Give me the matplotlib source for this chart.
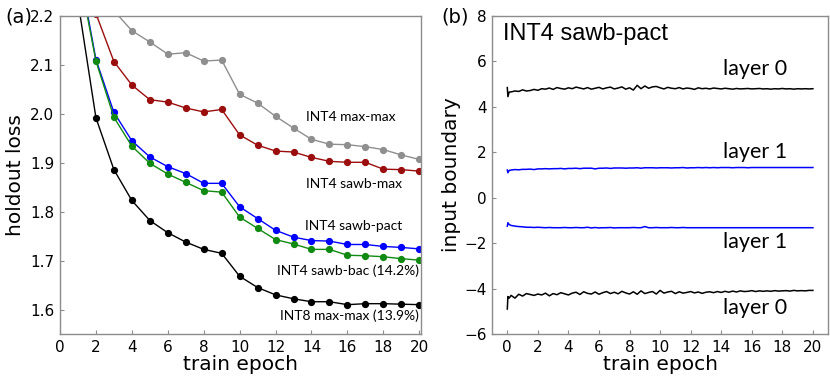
import numpy as np
import matplotlib
matplotlib.use('Agg')
import matplotlib.pyplot as plt

# (a) holdout loss per epoch
epochs = list(range(1, 21))
int4_maxmax = [2.60, 2.35, 2.211, 2.170, 2.147, 2.122, 2.125, 2.108, 2.110, 2.040,
               2.022, 1.995, 1.971, 1.948, 1.938, 1.937, 1.933, 1.927, 1.916, 1.907]
int4_sawbmax = [2.50, 2.205, 2.107, 2.059, 2.029, 2.024, 2.012, 2.004, 2.009, 1.957,
                1.936, 1.924, 1.922, 1.911, 1.903, 1.901, 1.901, 1.887, 1.886, 1.883]
int4_sawbpact = [2.31, 2.111, 2.003, 1.945, 1.912, 1.892, 1.878, 1.858, 1.858, 1.810,
                 1.786, 1.762, 1.748, 1.741, 1.740, 1.733, 1.733, 1.729, 1.727, 1.724]
int4_sawbbac = [2.30, 2.108, 1.993, 1.934, 1.899, 1.877, 1.860, 1.843, 1.840, 1.789,
                1.766, 1.743, 1.734, 1.723, 1.723, 1.711, 1.710, 1.708, 1.704, 1.701]
int8_maxmax = [2.23, 1.992, 1.886, 1.823, 1.782, 1.757, 1.738, 1.723, 1.715, 1.668,
               1.645, 1.630, 1.622, 1.616, 1.616, 1.610, 1.612, 1.612, 1.611, 1.610]

# (b) learned input boundaries, INT4 sawb-pact
head_epoch = [0.0, 0.04, 0.12]
grid_epoch = np.arange(0.25, 20.01, 0.25)

l0_pos_head = [4.85, 4.45, 4.65]
l0_pos = [4.66, 4.70, 4.68, 4.75, 4.70, 4.72, 4.77, 4.73, 4.80, 4.78, 4.83, 4.77,
          4.85, 4.81, 4.78, 4.84, 4.80, 4.87, 4.83, 4.79, 4.85, 4.78, 4.82, 4.86,
          4.79, 4.84, 4.87, 4.79, 4.83, 4.88, 4.78, 4.84, 4.74, 4.95, 4.80, 4.92,
          4.82, 4.88, 4.90, 4.84, 4.79, 4.86, 4.82, 4.80, 4.85, 4.79, 4.83, 4.81,
          4.77, 4.84, 4.80, 4.82, 4.79, 4.83, 4.81, 4.79, 4.82, 4.80, 4.78, 4.81,
          4.79, 4.80, 4.81, 4.79, 4.80, 4.81, 4.79, 4.80, 4.78, 4.80, 4.79, 4.81,
          4.79, 4.80, 4.78, 4.80, 4.79, 4.80, 4.79, 4.80]

l1_pos_head = [1.22, 1.10, 1.20]
l1_pos = [1.22, 1.24, 1.23, 1.25, 1.25, 1.26, 1.24, 1.27, 1.27, 1.28, 1.27, 1.28,
          1.28, 1.29, 1.27, 1.29, 1.29, 1.30, 1.28, 1.30, 1.30, 1.30, 1.27, 1.30,
          1.30, 1.31, 1.29, 1.31, 1.31, 1.31, 1.30, 1.31, 1.31, 1.32, 1.30, 1.32,
          1.32, 1.32, 1.31, 1.32, 1.32, 1.32, 1.31, 1.32, 1.32, 1.33, 1.31, 1.32,
          1.32, 1.33, 1.32, 1.33, 1.32, 1.33, 1.32, 1.33, 1.33, 1.33, 1.32, 1.33,
          1.33, 1.33, 1.32, 1.33, 1.33, 1.33, 1.33, 1.33, 1.33, 1.33, 1.33, 1.33,
          1.33, 1.33, 1.33, 1.33, 1.33, 1.33, 1.33, 1.33]

l1_neg_head = [-1.25, -1.10, -1.18]
l1_neg = [-1.22, -1.25, -1.27, -1.28, -1.30, -1.30, -1.31, -1.30, -1.31, -1.32, -1.31, -1.32,
          -1.32, -1.32, -1.31, -1.32, -1.32, -1.31, -1.32, -1.32, -1.30, -1.33, -1.31, -1.33,
          -1.32, -1.32, -1.31, -1.33, -1.32, -1.32, -1.32, -1.32, -1.31, -1.32, -1.32, -1.27,
          -1.32, -1.32, -1.31, -1.32, -1.32, -1.32, -1.31, -1.32, -1.32, -1.31, -1.32, -1.32,
          -1.32, -1.32, -1.32, -1.32, -1.32, -1.32, -1.32, -1.32, -1.32, -1.32, -1.32, -1.32,
          -1.32, -1.32, -1.32, -1.32, -1.32, -1.32, -1.32, -1.32, -1.32, -1.32, -1.32, -1.32,
          -1.32, -1.32, -1.32, -1.32, -1.32, -1.32, -1.32, -1.32]

l0_neg_head = [-4.90, -4.35, -4.42]
l0_neg = [-4.30, -4.42, -4.25, -4.33, -4.22, -4.26, -4.30, -4.24, -4.28, -4.20, -4.32, -4.22,
          -4.27, -4.18, -4.23, -4.28, -4.20, -4.16, -4.26, -4.14, -4.21, -4.24, -4.15, -4.25,
          -4.18, -4.13, -4.22, -4.16, -4.23, -4.12, -4.19, -4.24, -4.14, -4.25, -4.10, -4.22,
          -4.17, -4.13, -4.24, -4.08, -4.20, -4.15, -4.12, -4.22, -4.14, -4.20, -4.17, -4.13,
          -4.19, -4.15, -4.21, -4.16, -4.14, -4.18, -4.13, -4.17, -4.12, -4.16, -4.11, -4.15,
          -4.10, -4.13, -4.12, -4.09, -4.13, -4.10, -4.12, -4.10, -4.12, -4.09, -4.11, -4.10,
          -4.09, -4.11, -4.08, -4.10, -4.09, -4.10, -4.08, -4.08]

label_font = ['Lato', 'DejaVu Sans']


def style_axes(ax):
    for s in ax.spines.values():
        s.set_color('0.55')
        s.set_linewidth(1.0)
    ax.tick_params(direction='in', length=3, color='0.55', labelsize=11,
                   top=False, right=False, pad=4)


fig = plt.figure(figsize=(8.3, 3.79), dpi=100)
ax1 = fig.add_axes([0.0723, 0.1187, 0.435, 0.839])
ax2 = fig.add_axes([0.5928, 0.1187, 0.405, 0.839])

# panel (a)
series = [
    (int4_maxmax, '#8f8f8f'),
    (int4_sawbmax, '#9b0e0e'),
    (int4_sawbpact, '#0000ff'),
    (int4_sawbbac, '#118a11'),
    (int8_maxmax, 'black'),
]
for vals, c in series:
    ax1.plot(epochs, vals, '-o', color=c, lw=1.0, ms=4.2)

ax1.set_xlim(0, 20.1)
ax1.set_ylim(1.55, 2.2)
ax1.set_xticks(range(0, 21, 2))
ax1.set_yticks([1.6, 1.7, 1.8, 1.9, 2.0, 2.1, 2.2])
ax1.set_xlabel('train epoch', fontsize=14.5, labelpad=0)
ax1.set_ylabel('holdout loss', fontsize=14.5, labelpad=4)
style_axes(ax1)

ax1.text(16.2, 1.994, 'INT4 max-max', ha='center', va='center', fontsize=10, family=label_font)
ax1.text(16.35, 1.857, 'INT4 sawb-max', ha='center', va='center', fontsize=10, family=label_font)
ax1.text(16.35, 1.771, 'INT4 sawb-pact', ha='center', va='center', fontsize=10, family=label_font)
ax1.text(16.05, 1.680, 'INT4 sawb-bac (14.2%)', ha='center', va='center', fontsize=10, family=label_font)
ax1.text(16.1, 1.588, 'INT8 max-max (13.9%)', ha='center', va='center', fontsize=10, family=label_font)
fig.text(0.006, 0.955, '(a)', fontsize=14, va='center', ha='left')

# panel (b)
b_epoch = np.concatenate([head_epoch, grid_epoch])
ax2.plot(b_epoch, l0_pos_head + l0_pos, color='black', lw=1.1)
ax2.plot(b_epoch, l1_pos_head + l1_pos, color='#0000ff', lw=1.1)
ax2.plot(b_epoch, l1_neg_head + l1_neg, color='#0000ff', lw=1.1)
ax2.plot(b_epoch, l0_neg_head + l0_neg, color='black', lw=1.1)

ax2.set_xlim(-1, 21)
ax2.set_ylim(-6, 8)
ax2.set_xticks(range(0, 21, 2))
ax2.set_yticks(range(-6, 9, 2))
ax2.set_xlabel('train epoch', fontsize=14.5, labelpad=0)
ax2.set_ylabel('input boundary', fontsize=14.5, labelpad=2)
style_axes(ax2)

ax2.text(-0.3, 7.2, 'INT4 sawb-pact', fontsize=17, ha='left', va='center',
         family=['Liberation Sans', 'DejaVu Sans'])
ax2.text(16.2, 5.67, 'layer 0', ha='center', va='center', fontsize=15.5, family=label_font)
ax2.text(16.2, 2.0, 'layer 1', ha='center', va='center', fontsize=15.5, family=label_font)
ax2.text(16.2, -1.96, 'layer 1', ha='center', va='center', fontsize=15.5, family=label_font)
ax2.text(16.2, -4.86, 'layer 0', ha='center', va='center', fontsize=15.5, family=label_font)
fig.text(0.532, 0.955, '(b)', fontsize=14, va='center', ha='left')

fig.savefig('out.png', dpi=100)
